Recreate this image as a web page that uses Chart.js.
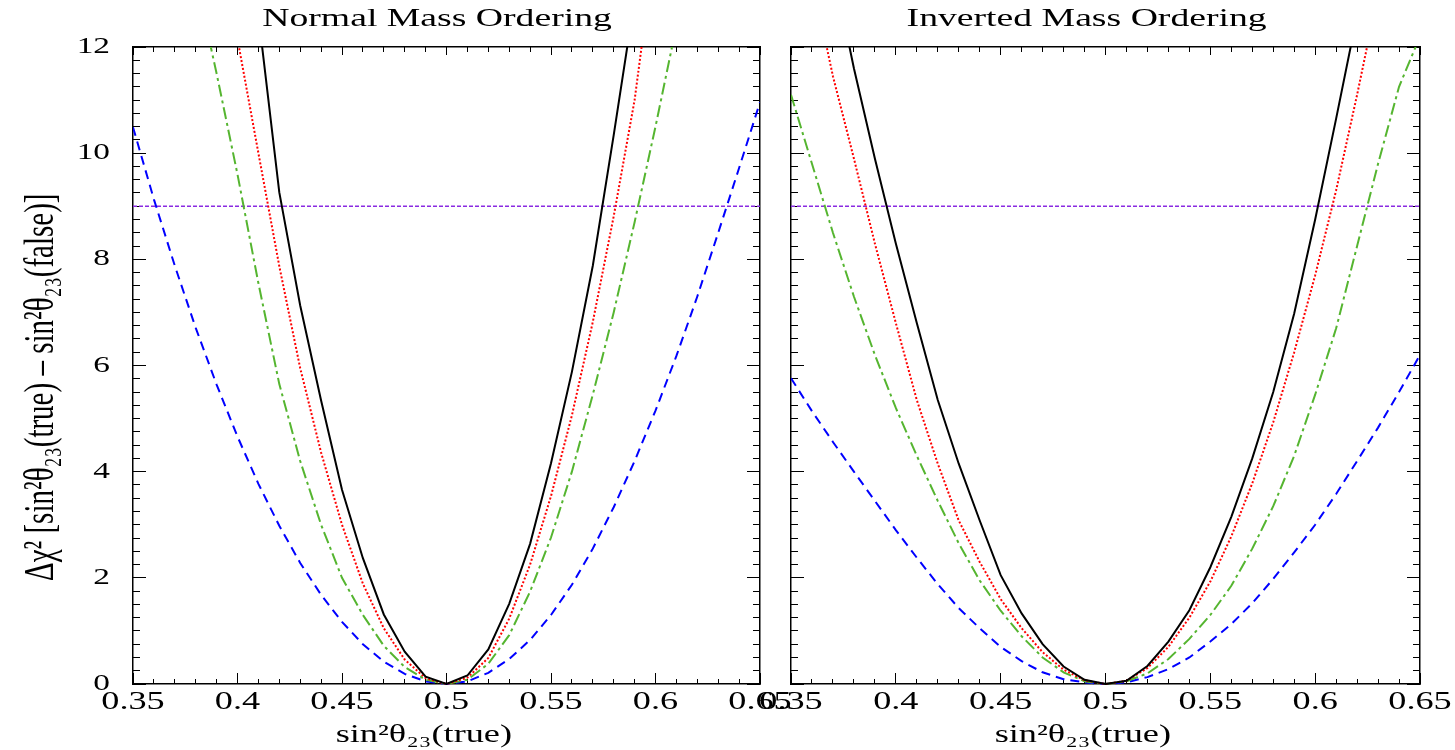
<!DOCTYPE html>
<html>
<head>
<meta charset="utf-8">
<script src="https://cdn.jsdelivr.net/npm/chart.js@4.4.1/dist/chart.umd.min.js"></script>
<style>
html,body{margin:0;padding:0;background:#fff;}
#wrap{position:relative;width:1455px;height:750px;overflow:hidden;background:#fff;}
canvas{position:absolute;left:0;top:0;}
</style>
</head>
<body>
<div id="wrap">
<canvas id="c1" width="1455" height="750"></canvas>
<canvas id="c2" width="1455" height="750"></canvas>
</div>
<script>
// ---------- data ----------
const sin2Values = [0.35,0.36,0.37,0.38,0.39,0.40,0.41,0.42,0.43,0.44,0.45,0.46,0.47,0.48,0.49,0.50,
                    0.51,0.52,0.53,0.54,0.55,0.56,0.57,0.58,0.59,0.60,0.61,0.62,0.63,0.64,0.65];

// Normal Mass Ordering
const nmoSolid   = [40,35,30,25,20.5,16.5,12.6,9.26,7.13,5.34,3.66,2.37,1.31,0.61,0.14,0,
                    0.16,0.65,1.51,2.64,4.16,5.88,7.88,10.34,12.9,15.7,18.7,22,25.5,29,33];
const nmoDotted  = [26,23,20,17.2,14.6,12.15,10.0,7.87,5.95,4.36,3.0,1.89,1.05,0.46,0.11,0,
                    0.12,0.49,1.23,2.25,3.54,5.06,6.82,8.81,11.0,14,17,20,23.5,27,31];
const nmoDashDot = [19.8,17.5,15.3,13.3,11.5,9.6,7.55,5.65,4.2,3.0,2.0,1.3,0.72,0.32,0.08,0,
                    0.08,0.38,0.92,1.74,2.76,4.0,5.45,7.0,8.7,10.5,12.4,14.2,16.2,18.4,20.7];
const nmoDashed  = [10.49,9.13,7.88,6.71,5.64,4.66,3.77,2.98,2.28,1.68,1.17,0.75,0.42,0.19,0.05,0,
                    0.05,0.21,0.47,0.83,1.3,1.87,2.55,3.33,4.2,5.15,6.18,7.3,8.5,9.72,10.96];

// Inverted Mass Ordering
const imoSolid   = [18,15.7,13.5,11.6,9.9,8.3,6.8,5.35,4.15,3.08,2.05,1.33,0.75,0.33,0.08,0,
                    0.06,0.34,0.80,1.39,2.2,3.15,4.25,5.5,6.98,8.75,10.65,12.6,14.7,17,19.5];
const imoDotted  = [15.3,13.3,11.45,9.9,8.3,6.8,5.35,4.15,3.08,2.3,1.6,1.05,0.6,0.27,0.07,0,
                    0.06,0.3,0.7,1.25,1.93,2.78,3.78,4.93,6.25,7.7,9.3,11.1,13.0,15,17.2];
const imoDashDot = [11.1,9.8,8.5,7.3,6.2,5.2,4.3,3.45,2.65,1.95,1.38,0.9,0.5,0.22,0.05,0,
                    0.05,0.2,0.47,0.85,1.3,1.85,2.55,3.35,4.3,5.45,6.7,8.25,9.8,11.25,12.2];
const imoDashed  = [5.76,5.14,4.56,4.0,3.45,2.9,2.38,1.88,1.43,1.05,0.7,0.43,0.22,0.09,0.03,0,
                    0.03,0.13,0.28,0.5,0.8,1.13,1.52,1.98,2.48,3.0,3.58,4.2,4.83,5.5,6.2];

const threshold = 9;
const xRange = [0.35, 0.65];
const yRange = [0, 12];
const xMajorStep = 0.05, xMinorStep = 0.01;
const yMajorStep = 2, yMinorStep = 0.25;
const panelTitles = ['Normal Mass Ordering  ', 'Inverted Mass Ordering    '];
const xTitle = 'sin\u00B2\u03B8\u2082\u2083(true)     ';
const yTitle = '\u0394\u03C7\u00B2 [sin\u00B2\u03B8\u2082\u2083(true) \u2013 sin\u00B2\u03B8\u2082\u2083(false)]      ';

// ---------- styling ----------
const FONT = "'Liberation Serif', 'Times New Roman', serif";
Chart.defaults.font.family = FONT;
Chart.defaults.color = '#000';

// The reference text is horizontally stretched; reproduce that on the page frame.
const SX = 1.45;
function stretchText(ctx) {
  const fill = ctx.fillText.bind(ctx);
  const measure = ctx.measureText.bind(ctx);
  ctx.fillText = function (text, x, y) {
    const m = ctx.getTransform();
    const p = m.transformPoint(new DOMPoint(x, y));
    ctx.save();
    ctx.setTransform(new DOMMatrix().translate(p.x, 0).scale(SX, 1).translate(-p.x, 0).multiply(m));
    fill(text, x, y);
    ctx.restore();
  };
  ctx.measureText = function (text) {
    const r = measure(text);
    return {
      width: r.width * SX,
      actualBoundingBoxLeft: r.actualBoundingBoxLeft * SX,
      actualBoundingBoxRight: r.actualBoundingBoxRight * SX,
      actualBoundingBoxAscent: r.actualBoundingBoxAscent,
      actualBoundingBoxDescent: r.actualBoundingBoxDescent,
      fontBoundingBoxAscent: r.fontBoundingBoxAscent,
      fontBoundingBoxDescent: r.fontBoundingBoxDescent
    };
  };
  return ctx;
}

// inward tick marks drawn by zero-size companion axes
function tickGrid(len) {
  return { display: true, drawOnChartArea: false, drawTicks: true, tickLength: -len, tickWidth: 1, tickColor: '#000' };
}
const frame = { display: true, color: '#000', width: 1.5 };
const noFrame = { display: false };

function tickAxis(position, range, step, len) {
  const horiz = position === 'top' || position === 'bottom';
  return {
    type: 'linear', position: position, weight: 0, min: range[0], max: range[1],
    ticks: { stepSize: step, display: false, autoSkip: false },
    grid: tickGrid(len), border: noFrame,
    afterFit: s => { if (horiz) s.height = 0; else s.width = 0; }
  };
}

function buildScales(cfg) {
  const scales = {
    x: {
      type: 'linear', position: 'bottom', weight: 1, min: xRange[0], max: xRange[1],
      ticks: { stepSize: xMajorStep, autoSkip: false, maxRotation: 0, minRotation: 0, padding: 3,
               font: { family: FONT, size: 25 }, color: '#000',
               callback: v => String(+v.toFixed(2)) },
      grid: { display: true, drawOnChartArea: false, drawTicks: false }, border: frame,
      title: { display: true, text: xTitle, color: '#000', font: { family: FONT, size: 25 }, padding: { top: 0, bottom: 0 } },
      afterFit: s => { s.height = cfg.bottom; }
    },
    xMajorTicks: tickAxis('bottom', xRange, xMajorStep, 11),
    xMinorTicks: tickAxis('bottom', xRange, xMinorStep, 5),
    xTop: {
      type: 'linear', position: 'top', weight: 1, min: xRange[0], max: xRange[1],
      ticks: { stepSize: xMajorStep, display: false, autoSkip: false },
      grid: { display: true, drawOnChartArea: false, drawTicks: false }, border: frame,
      title: { display: true, text: cfg.title, color: '#000', font: { family: FONT, size: 26 }, padding: { top: 4, bottom: 0 } },
      afterFit: s => { s.height = cfg.top; }
    },
    xTopMajorTicks: tickAxis('top', xRange, xMajorStep, 8),
    xTopMinorTicks: tickAxis('top', xRange, xMinorStep, 5),
    y: {
      type: 'linear', position: 'left', weight: 1, min: yRange[0], max: yRange[1],
      ticks: { stepSize: yMajorStep, display: cfg.yLabels, autoSkip: false, padding: 23,
               font: { family: FONT, size: 23 }, color: '#000' },
      grid: { display: true, drawOnChartArea: false, drawTicks: false }, border: frame,
      afterFit: s => { s.width = cfg.yAxisW; }
    },
    yMajorTicks: tickAxis('left', yRange, yMajorStep, 13),
    yMinorTicks: tickAxis('left', yRange, yMinorStep, 7),
    yRight: {
      type: 'linear', position: 'right', weight: 1, min: yRange[0], max: yRange[1],
      ticks: { stepSize: yMajorStep, display: false, autoSkip: false },
      grid: { display: true, drawOnChartArea: false, drawTicks: false }, border: frame,
      afterFit: s => { s.width = cfg.right; }
    },
    yRightMajorTicks: tickAxis('right', yRange, yMajorStep, 13),
    yRightMinorTicks: tickAxis('right', yRange, yMinorStep, 7)
  };
  if (cfg.yTitleW) {
    scales.yTitle = {
      type: 'linear', position: 'left', weight: 2, min: yRange[0], max: yRange[1],
      ticks: { display: false }, grid: { display: false, drawTicks: false }, border: noFrame,
      title: { display: true, text: yTitle, color: '#000', font: { family: FONT, size: 29 }, padding: { top: 25, bottom: 0 } },
      afterFit: s => { s.width = cfg.yTitleW; }
    };
  }
  return scales;
}

function pts(arr) { return sin2Values.map((x, i) => ({ x: x, y: arr[i] })); }

function buildDatasets(solid, dotted, dashDot, dashed) {
  const common = { xAxisID: 'x', yAxisID: 'y', pointRadius: 0, tension: 0, fill: false,
                   clip: { left: 0, top: 0, right: 0, bottom: 2 } };
  return [
    Object.assign({ label: 'solid', data: pts(solid), borderColor: '#000000', borderWidth: 2 }, common),
    Object.assign({ label: 'dotted', data: pts(dotted), borderColor: '#ff0000', borderWidth: 2, borderDash: [2, 2] }, common),
    Object.assign({ label: 'dashdot', data: pts(dashDot), borderColor: '#55b530', borderWidth: 2, borderDash: [12, 4, 3, 4] }, common),
    Object.assign({ label: 'dashed', data: pts(dashed), borderColor: '#0000ff', borderWidth: 2, borderDash: [9, 6] }, common),
    Object.assign({ label: '3 sigma', data: [{ x: xRange[0], y: threshold }, { x: xRange[1], y: threshold }],
                    borderColor: '#8a2be2', borderWidth: 1.4, borderDash: [4, 2] }, common)
  ];
}

function makeChart(id, datasets, cfg) {
  const ctx = stretchText(document.getElementById(id).getContext('2d'));
  return new Chart(ctx, {
    type: 'line',
    data: { datasets: datasets },
    options: {
      responsive: false, animation: false, devicePixelRatio: 1, events: [],
      layout: { padding: 0 },
      plugins: { legend: { display: false }, tooltip: { enabled: false }, title: { display: false } },
      scales: buildScales(cfg)
    }
  });
}

makeChart('c1', buildDatasets(nmoSolid, nmoDotted, nmoDashDot, nmoDashed),
  { title: panelTitles[0], top: 47, bottom: 66, yTitleW: 70, yAxisW: 63, yLabels: true, right: 695 });
makeChart('c2', buildDatasets(imoSolid, imoDotted, imoDashDot, imoDashed),
  { title: panelTitles[1], top: 47, bottom: 66, yTitleW: 0, yAxisW: 791, yLabels: false, right: 35 });
</script>
</body>
</html>
